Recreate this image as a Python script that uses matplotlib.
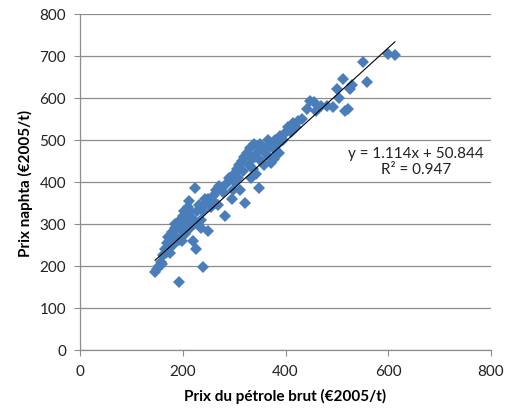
import numpy as np
import matplotlib
matplotlib.use("Agg")
import matplotlib.pyplot as plt

# crude oil price vs naphtha price (EUR 2005 / t)
crude = [146, 150, 153, 157, 160, 162, 165, 168, 170, 172, 175, 178, 180, 182,
         185, 187, 190, 192, 195, 197, 200, 193, 200, 203, 205, 208, 210, 212,
         215, 218, 220, 222, 224, 225, 228, 230, 232, 235, 239, 240, 245, 249,
         250, 255, 260, 265, 268, 270, 275, 282, 285, 290, 295, 300, 302, 305,
         310, 312, 315, 318, 320, 322, 325, 328, 330, 332, 335, 338, 340, 342,
         345, 348, 350, 352, 355, 358, 360, 365, 368, 370, 372, 375, 378, 380,
         385, 388, 390, 395, 400, 405, 410, 415, 420, 425, 432, 441, 447, 455,
         460, 470, 480, 492, 500, 505, 512, 516, 521, 525, 530, 551, 558, 600,
         613, 176, 184, 198, 206, 214, 236, 244, 262, 278, 298, 308, 336, 362]
naphtha = [186, 192, 200, 210, 205, 225, 240, 232, 255, 270, 245, 262, 280, 250,
           290, 270, 300, 262, 310, 285, 295, 162, 320, 330, 275, 305, 340, 355,
           290, 315, 260, 300, 385, 240, 330, 300, 345, 310, 198, 330, 350, 283,
           360, 340, 370, 380, 345, 390, 385, 319, 395, 410, 360, 420, 400, 430,
           440, 380, 450, 425, 460, 350, 470, 440, 480, 410, 455, 490, 460, 420,
           470, 385, 490, 450, 480, 440, 470, 500, 460, 490, 445, 480, 455, 500,
           490, 470, 510, 500, 520, 530, 520, 540, 530, 545, 550, 574, 593, 590,
           570, 580, 581, 579, 621, 600, 645, 569, 574, 621, 630, 686, 638, 705,
           702, 230, 300, 260, 320, 330, 290, 360, 350, 375, 380, 410, 430, 475]

slope = 1.114
intercept = 50.844
r2 = 0.947

x_ticks = [0, 200, 400, 600, 800]
y_ticks = [0, 100, 200, 300, 400, 500, 600, 700, 800]

plt.rcParams['font.family'] = ['Lato', 'DejaVu Sans']

fig = plt.figure(figsize=(5.05, 4.14), dpi=100)
ax = fig.add_axes([0.1584, 0.1522, 0.8139, 0.8116])

ax.plot(crude, naphtha, linestyle='none', marker='D', markersize=6.2,
        color='#4A7EBB', markeredgewidth=0, zorder=3)

xs = np.array([min(crude), max(crude)])
ax.plot(xs, slope * xs + intercept, color='black', linewidth=0.8, zorder=4)

ax.text(654, 450, f"y = {slope}x + {intercept}\nR² = {r2}", ha='center',
        va='center', multialignment='center', fontsize=11, linespacing=1.25,
        color='#222222')

ax.set_xlim(0, 800)
ax.set_ylim(0, 800)
ax.set_xticks(x_ticks)
ax.set_yticks(y_ticks)
ax.yaxis.grid(True, color='#8c8c8c', linewidth=0.9)
ax.set_axisbelow(True)

for side in ['top', 'right']:
    ax.spines[side].set_visible(False)
for side in ['left', 'bottom']:
    ax.spines[side].set_color('#8c8c8c')
    ax.spines[side].set_linewidth(0.9)
ax.tick_params(axis='both', direction='out', length=4, color='#8c8c8c',
               labelsize=11, labelcolor='#222222', pad=6)

ax.set_xlabel("Prix du pétrole brut (€2005/t)", fontsize=11, fontweight='bold',
              labelpad=7)
ax.set_ylabel("Prix naphta (€2005/t)", fontsize=11, fontweight='bold',
              labelpad=5)

fig.savefig("out.png", dpi=100)
